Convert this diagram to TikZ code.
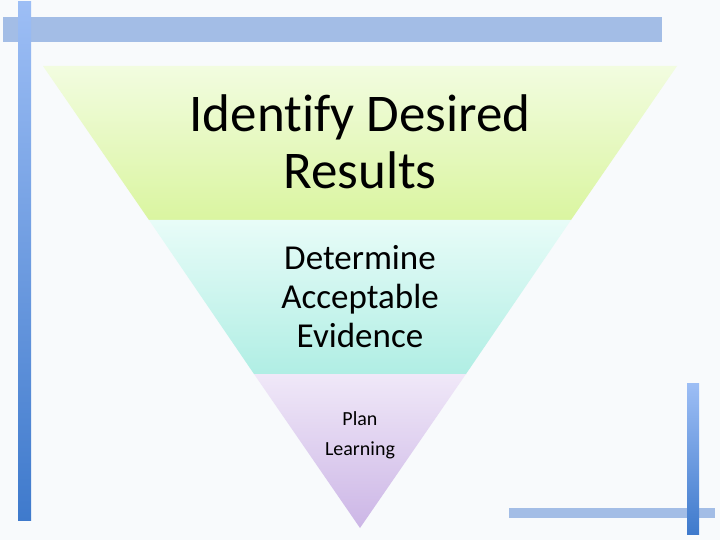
\documentclass[tikz,border=0pt]{standalone}
\usepackage{fontspec}
\setmainfont{Carlito}
\begin{document}
\begin{tikzpicture}[x=1pt,y=-1pt,
  txt/.style={align=center, text=black}]
\definecolor{barh}{HTML}{A3BDE6}
\definecolor{barv1}{HTML}{9DBEF5}
\definecolor{barv2}{HTML}{3F7ACC}
\definecolor{bg}{HTML}{F8FAFC}
\definecolor{g1}{HTML}{F2FCE0}\definecolor{g2}{HTML}{DAF5A0}
\definecolor{c1}{HTML}{E8FCF8}\definecolor{c2}{HTML}{B0EEE4}
\definecolor{p1}{HTML}{F0E8F8}\definecolor{p2}{HTML}{CCB6E6}
\fill[bg] (0,0) rectangle (720,540);
\useasboundingbox (0,0) rectangle (720,540);
% bars
\fill[barh] (3,17) rectangle (662,42);
\shade[top color=barv1,bottom color=barv2] (18,2) rectangle (31,520);
\fill[barh] (509,508) rectangle (715,518);
\shade[top color=barv1,bottom color=barv2] (687,383) rectangle (699,534);
% triangle bands
\shade[top color=g1, bottom color=g2] (43,66) -- (677,66) -- (571,220) -- (149,220) -- cycle;
\shade[top color=c1, bottom color=c2] (149,220) -- (571,220) -- (466,374) -- (254,374) -- cycle;
\shade[top color=p1, bottom color=p2] (254,374) -- (466,374) -- (360,528) -- cycle;
% texts
\node[txt, font=\fontsize{53}{57}\selectfont\addfontfeatures{Ligatures=NoCommon}] (t1) at (360,142) {Identify Desired\\Results};
\node[txt, font=\fontsize{35}{39}\selectfont] (t2) at (360,297) {Determine\\Acceptable\\Evidence};
\node[txt, font=\fontsize{20}{30}\selectfont] (t3) at (360,435) {Plan\\Learning};
\end{tikzpicture}
\end{document}
